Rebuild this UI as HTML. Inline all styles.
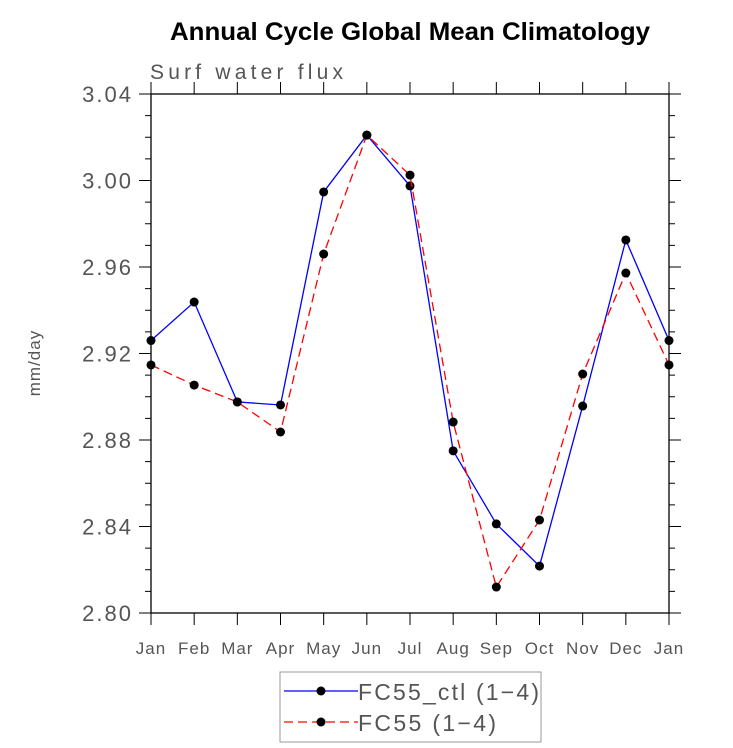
<!DOCTYPE html>
<html><head><meta charset="utf-8"><style>
body{margin:0;background:#fff}
svg{display:block;font-family:"Liberation Sans",sans-serif}
</style></head><body>
<svg id="chart" width="733" height="748">
<text x="410" y="40" text-anchor="middle" font-size="25" font-weight="bold" textLength="480" lengthAdjust="spacingAndGlyphs">Annual Cycle Global Mean Climatology</text>
<text x="150" y="79" font-size="21" fill="#555" textLength="193" lengthAdjust="spacing">Surf water flux</text>
<text transform="translate(40,363) rotate(-90)" text-anchor="middle" font-size="17" fill="#555" letter-spacing="1">mm/day</text>
<g id="axes"></g><g id="series"></g>
<rect x="280" y="672" width="261" height="70" fill="none" stroke="#999" stroke-width="1"/>
<line x1="284" y1="691" x2="358" y2="691" stroke="#00f" stroke-width="1.3"/>
<circle cx="321" cy="691" r="4.5" fill="#000"/>
<text x="358" y="700" font-size="23" fill="#555" textLength="181" lengthAdjust="spacing">FC55_ctl (1−4)</text>
<line x1="284" y1="722" x2="358" y2="722" stroke="#f00" stroke-width="1.3" stroke-dasharray="9,5"/>
<circle cx="321" cy="722" r="4.5" fill="#000"/>
<text x="358" y="731" font-size="23" fill="#555" textLength="138" lengthAdjust="spacing">FC55 (1−4)</text>
</svg>
<script>
const months=["Jan","Feb","Mar","Apr","May","Jun","Jul","Aug","Sep","Oct","Nov","Dec","Jan"];
const ctl=[2.926,2.9438,2.8976,2.8962,2.9947,3.021,2.9975,2.875,2.8412,2.8217,2.8957,2.9725,2.926];
const fc55=[2.9147,2.9054,2.8976,2.8837,2.966,3.021,3.0025,2.8883,2.812,2.843,2.9105,2.9572,2.9147];
const yTicks=["2.80","2.84","2.88","2.92","2.96","3.00","3.04"];
const NS="http://www.w3.org/2000/svg";
const L=151,R=669,T=94,B=613,ymin=2.80,ymax=3.04;
const xs=i=>L+i*(R-L)/12, ys=v=>B-(v-ymin)/(ymax-ymin)*(B-T);
function mk(tag,at,parent){const e=document.createElementNS(NS,tag);for(const k in at)e.setAttribute(k,at[k]);parent.appendChild(e);return e;}
const ax=document.getElementById('axes'),se=document.getElementById('series');
const fr=mk('rect',{x:L,y:T,width:R-L,height:B-T,fill:'none',stroke:'#000','stroke-width':1.3},ax);


months.forEach((m,i)=>{
  const x=xs(i);
  mk('line',{x1:x,y1:B,x2:x,y2:B+12,stroke:'#000'},ax);
  mk('line',{x1:x,y1:T,x2:x,y2:T-12,stroke:'#000'},ax);
  const t=mk('text',{x:x,y:654,'text-anchor':'middle','font-size':17,fill:'#555','letter-spacing':1},ax);
  t.textContent=m;
  
  
});
for(let k=0;k<=24;k++){
  const v=ymin+k*0.01,y=ys(v),len=(k%4==0)?12:6;
  mk('line',{x1:L,y1:y,x2:L-len,y2:y,stroke:'#000'},ax);
  mk('line',{x1:R,y1:y,x2:R+len,y2:y,stroke:'#000'},ax);
}
yTicks.forEach(s=>{
  const t=mk('text',{x:133,y:ys(parseFloat(s))+8,'text-anchor':'end','font-size':22,fill:'#555','letter-spacing':2},ax);
  t.textContent=s;
  
  
});
function draw(vals,color,dash,name){
  const p=mk('polyline',{points:vals.map((v,i)=>xs(i)+','+ys(v)).join(' '),fill:'none',stroke:color,'stroke-width':1.3,'stroke-dasharray':dash},se);
  
  
  vals.forEach((v,i)=>{
    const c=mk('circle',{cx:xs(i),cy:ys(v),r:4.5,fill:'#000'},se);
    
    
  });
}
draw(ctl,'#00f','none','fc55-ctl');
draw(fc55,'#f00','9,5','fc55');
</script>
</body></html>
